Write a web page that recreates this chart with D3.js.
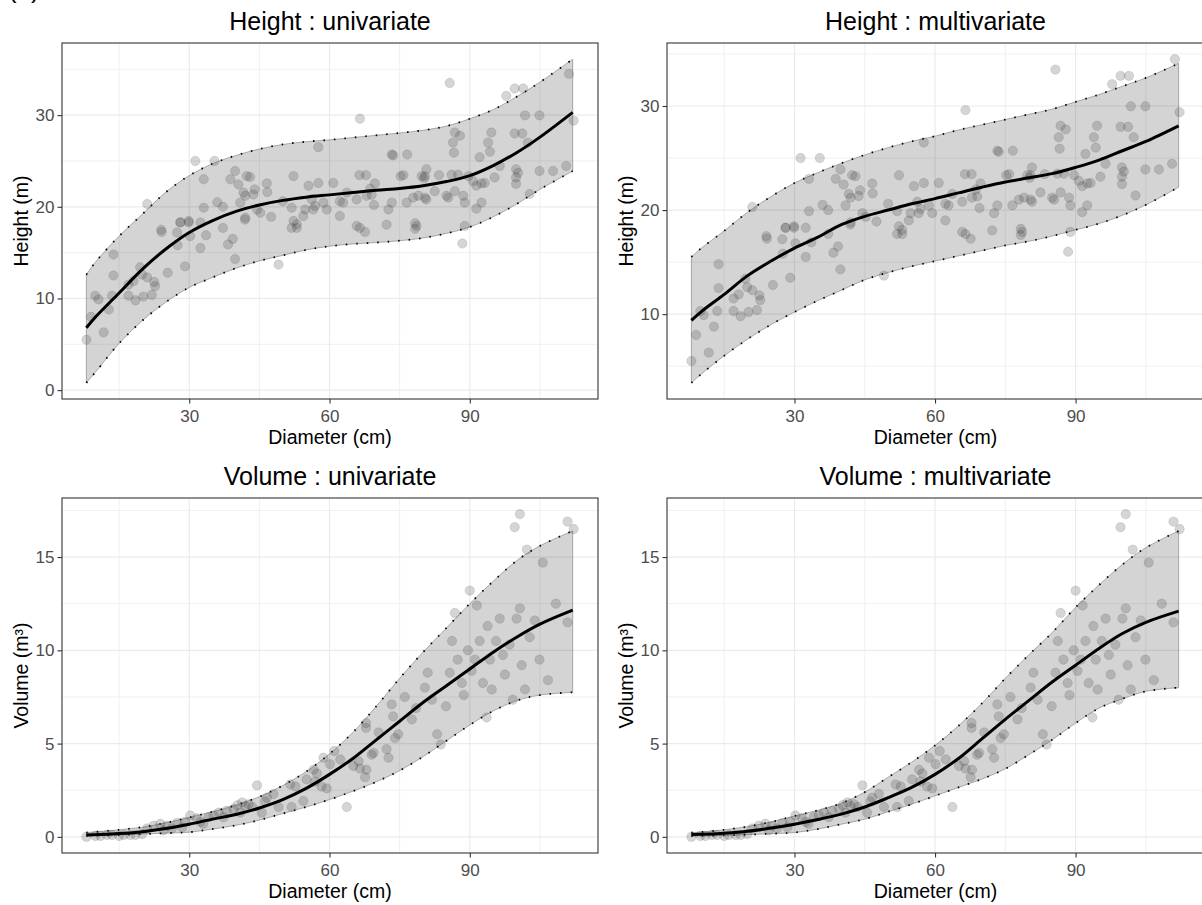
<!DOCTYPE html>
<html>
<head>
<meta charset="utf-8">
<script src="https://cdn.jsdelivr.net/npm/d3@7"></script>
<style>
  html, body { margin: 0; padding: 0; background: #ffffff; }
  svg { display: block; font-family: "Liberation Sans", Arial, "DejaVu Sans", sans-serif; }
</style>
</head>
<body>
<svg id="chart" width="1202" height="905"></svg>
<script>
// ---- Fitted curves: diameter grid (cm) and predictions ----
const diameterGrid = [8, 10, 15, 20, 25, 30, 35, 40, 45, 50, 55, 60, 65, 70, 75, 80, 85, 90, 95, 100, 105, 112];

// Height (m), univariate model
const heightUniFit   = [6.8, 8.0, 10.6, 13.2, 15.4, 17.2, 18.5, 19.5, 20.2, 20.7, 21.05, 21.3, 21.55, 21.8, 22.0, 22.3, 22.75, 23.4, 24.5, 25.9, 27.6, 30.3];
const heightUniLower = [0.8, 2.0, 5.1, 7.6, 9.6, 11.2, 12.3, 13.3, 14.1, 14.7, 15.3, 15.7, 15.95, 16.1, 16.3, 16.6, 17.1, 17.8, 18.9, 20.3, 21.9, 23.9];
const heightUniUpper = [12.6, 14.0, 16.8, 19.2, 21.6, 23.4, 24.7, 25.6, 26.3, 26.8, 27.1, 27.3, 27.55, 27.8, 28.05, 28.35, 28.8, 29.6, 30.6, 32.0, 33.6, 36.1];

// Height (m), multivariate model
const heightMultiFit   = [9.4, 10.2, 11.9, 13.7, 15.1, 16.35, 17.4, 18.6, 19.4, 20.0, 20.6, 21.1, 21.65, 22.2, 22.7, 23.1, 23.5, 24.1, 24.8, 25.7, 26.6, 28.1];
const heightMultiLower = [3.4, 4.2, 6.0, 7.6, 9.0, 10.2, 11.3, 12.3, 13.3, 14.0, 14.6, 15.1, 15.6, 16.1, 16.6, 17.0, 17.5, 18.1, 18.7, 19.5, 20.5, 22.2];
const heightMultiUpper = [15.5, 16.3, 18.0, 19.8, 21.3, 22.6, 23.6, 24.5, 25.3, 26.0, 26.6, 27.1, 27.7, 28.2, 28.7, 29.2, 29.7, 30.4, 31.1, 31.9, 32.7, 34.1];

// Volume (m3), univariate model
const volumeUniFit   = [0.1, 0.12, 0.18, 0.28, 0.45, 0.68, 0.95, 1.2, 1.55, 2.0, 2.6, 3.35, 4.2, 5.2, 6.2, 7.2, 8.1, 9.0, 9.9, 10.7, 11.4, 12.15];
const volumeUniLower = [0.05, 0.06, 0.1, 0.15, 0.2, 0.25, 0.42, 0.62, 0.9, 1.25, 1.6, 2.0, 2.45, 2.95, 3.55, 4.3, 5.15, 6.0, 6.75, 7.3, 7.6, 7.75];
const volumeUniUpper = [0.23, 0.27, 0.38, 0.52, 0.75, 1.04, 1.35, 1.7, 2.15, 2.75, 3.5, 4.45, 5.6, 7.0, 8.5, 9.9, 11.2, 12.5, 13.7, 14.8, 15.6, 16.4];

// Volume (m3), multivariate model
const volumeMultiFit   = [0.13, 0.14, 0.2, 0.3, 0.47, 0.68, 0.93, 1.22, 1.6, 2.1, 2.65, 3.35, 4.2, 5.25, 6.3, 7.3, 8.3, 9.2, 10.1, 10.9, 11.5, 12.1];
const volumeMultiLower = [0.04, 0.05, 0.08, 0.12, 0.17, 0.23, 0.42, 0.68, 0.95, 1.35, 1.75, 2.2, 2.65, 3.1, 3.65, 4.4, 5.2, 6.1, 6.9, 7.4, 7.8, 8.0];
const volumeMultiUpper = [0.23, 0.26, 0.38, 0.55, 0.8, 1.12, 1.42, 1.8, 2.4, 3.2, 4.0, 4.9, 5.95, 7.15, 8.5, 9.75, 10.95, 12.3, 13.5, 14.6, 15.5, 16.4];

// ---- Observed trees: diameter (cm) and height (m) ----
const obsHeightDiameter = [
  8.0, 9.0, 9.9, 10.6, 11.7, 12.8, 13.5, 13.8, 13.8, 17.0, 17.0, 18.5, 18.1, 19.5, 19.9, 20.2, 21.0, 22.0, 22.5, 22.7,
  24.1, 25.4, 27.4, 27.5, 28.1, 29.1, 29.9, 30.2, 32.4, 33.6, 37.2, 38.3, 39.3, 39.8, 41.9, 49.1, 51.9, 53.0, 21.0, 31.3,
  35.4, 33.1, 39.8, 38.8, 40.5, 42.3, 43.0, 41.6, 42.0, 43.7, 46.6, 46.7, 52.3, 33.1, 37.2, 28.1, 29.9, 32.4, 42.0, 44.5,
  45.2, 51.9, 52.3, 53.0, 24.0, 40.9, 57.6, 66.5, 73.3, 73.6, 76.6, 85.7, 86.8, 87.9, 86.4, 86.6, 94.6, 93.9, 94.3, 92.1,
  97.8, 99.6, 101.4, 101.8, 104.9, 99.6, 101.2, 102.4, 111.2, 112.2, 104.9, 107.8, 110.6, 99.9, 100.3, 99.9, 99.9, 102.8, 96.4, 95.3,
  93.2, 90.7, 91.4, 92.5, 89.7, 87.5, 86.1, 85.0, 86.8, 88.6, 88.9, 91.4, 92.5, 82.5, 83.4, 80.7, 80.4, 79.7, 80.2, 80.7,
  80.4, 79.0, 77.9, 75.8, 75.2, 66.4, 67.8, 69.7, 68.7, 69.0, 63.7, 62.2, 60.8, 57.6, 55.5, 56.2, 56.9, 58.7, 59.4, 62.9,
  65.8, 67.9, 69.5, 72.6, 73.3, 76.5, 85.4, 54.8, 54.4, 56.5, 62.2, 65.8, 66.5, 72.2, 78.3, 78.6, 88.9, 67.6, 78.3, 88.4,
  47.5, 50.0, 44.0, 36.0
];
const obsHeight = [
  5.5, 8.0, 10.3, 9.9, 6.3, 8.8, 10.3, 12.5, 14.8, 10.3, 11.5, 9.8, 11.9, 13.4, 12.6, 10.2, 12.3, 10.4, 11.8, 11.35,
  17.25, 12.8, 17.2, 15.8, 18.3, 13.5, 18.3, 16.8, 15.5, 16.9, 17.7, 15.9, 16.5, 14.3, 18.6, 13.7, 17.7, 17.7, 20.3, 25.0,
  25.0, 23.0, 23.9, 23.0, 22.45, 23.35, 23.25, 21.55, 21.2, 21.35, 22.55, 21.6, 23.35, 19.9, 20.0, 18.3, 18.45, 18.3, 18.8, 19.7,
  19.35, 19.9, 18.45, 18.1, 17.5, 20.45, 26.5, 29.6, 25.7, 25.6, 25.7, 33.5, 28.1, 27.75, 27.0, 25.9, 28.1, 27.0, 26.0, 25.4,
  32.1, 32.9, 32.9, 29.97, 29.97, 28.0, 28.0, 27.0, 34.5, 29.4, 23.9, 23.9, 24.45, 24.1, 23.7, 23.2, 22.5, 21.4, 24.45, 23.2,
  22.6, 22.8, 22.3, 22.55, 23.35, 23.5, 23.5, 21.2, 21.7, 21.2, 20.45, 19.8, 20.45, 21.7, 23.45, 24.1, 23.35, 23.35, 23.1, 20.8,
  21.0, 21.2, 21.0, 23.45, 23.35, 23.45, 23.45, 22.55, 21.97, 21.3, 21.55, 20.6, 22.6, 22.6, 22.3, 20.8, 20.1, 20.45, 19.7, 20.45,
  20.8, 21.2, 20.2, 19.7, 20.45, 20.45, 21.0, 19.7, 19.0, 19.7, 19.0, 17.9, 17.7, 18.05, 18.2, 17.9, 17.9, 17.25, 17.6, 16.0,
  18.9, 20.6, 21.9, 20.5
];

// ---- Observed trees: diameter (cm) and volume (m3) ----
const obsVolumeDiameter = [
  8.0, 9.9, 11.0, 12.4, 13.5, 17.4, 18.5, 19.9, 21.0, 22.4, 23.8, 25.2, 26.3, 27.4, 29.1, 30.2, 31.6, 32.4, 34.1, 35.2,
  36.3, 37.3, 38.0, 39.5, 40.3, 41.3, 42.0, 42.7, 40.9, 44.5, 45.5, 46.6, 46.2, 49.1, 51.9, 51.6, 52.7, 54.4, 55.1, 56.6,
  57.3, 56.9, 58.3, 59.4, 58.7, 60.1, 62.3, 63.7, 65.1, 66.2, 66.5, 67.6, 67.8, 67.8, 67.9, 69.0, 69.4, 72.6, 72.2, 73.3,
  73.6, 74.0, 74.7, 76.1, 77.6, 80.4, 81.0, 81.9, 83.0, 83.8, 84.9, 85.7, 86.2, 86.8, 87.4, 88.3, 88.7, 89.6, 90.0, 90.4,
  91.1, 91.5, 92.1, 92.8, 93.6, 93.8, 94.3, 94.7, 95.6, 96.4, 97.1, 97.5, 98.5, 99.2, 99.6, 100.0, 100.7, 100.7, 101.1, 101.8,
  102.2, 102.8, 103.9, 104.9, 105.6, 106.7, 108.4, 110.9, 110.9, 112.2, 15.0, 16.0, 24.5, 28.5, 33.0, 43.5, 48.0, 61.0, 70.5, 78.5
];
const obsVolume = [
  0.0, 0.05, 0.05, 0.1, 0.1, 0.1, 0.1, 0.15, 0.45, 0.6, 0.7, 0.6, 0.45, 0.75, 0.8, 1.15, 1.0, 0.8, 1.05, 1.15,
  1.3, 1.05, 1.4, 1.5, 1.7, 1.85, 1.65, 1.75, 1.3, 2.76, 1.3, 2.1, 1.9, 1.6, 1.6, 2.81, 2.7, 1.92, 3.08, 3.6,
  3.4, 2.96, 2.7, 2.6, 4.24, 3.9, 4.15, 1.6, 3.8, 4.06, 3.66, 3.2, 5.84, 6.1, 3.6, 4.4, 4.5, 4.24, 4.7, 7.1,
  6.46, 5.3, 5.5, 7.5, 6.3, 8.0, 8.8, 7.35, 5.5, 4.95, 7.0, 8.8, 10.5, 12.0, 9.5, 8.25, 7.6, 10.0, 13.2, 8.9,
  9.5, 12.4, 10.5, 8.25, 6.4, 11.3, 9.5, 7.9, 10.5, 11.7, 9.75, 8.7, 10.3, 7.35, 16.6, 11.7, 12.25, 17.3, 9.2, 7.9,
  15.4, 10.7, 11.6, 9.5, 14.7, 8.4, 12.5, 16.9, 11.5, 16.5, 0.05, 0.1, 0.35, 0.5, 0.7, 1.6, 2.3, 4.6, 5.6, 6.9
];

// ---- Axis ticks ----
const diameterTicks = [30, 60, 90];
const diameterMinor = [15, 45, 75, 105];
const heightTicks = [0, 10, 20, 30];
const heightMinor = [5, 15, 25, 35];
const volumeTicks = [0, 5, 10, 15];
const volumeMinor = [2.5, 7.5, 12.5, 17.5];

// ---- Panel definitions ----
const panels = [
  { title: "Height : univariate", yTitle: "Height (m)", left: 62, right: 598, top: 43, bottom: 399,
    fit: heightUniFit, lower: heightUniLower, upper: heightUniUpper,
    px: obsHeightDiameter, py: obsHeight, yTicks: heightTicks, yMinor: heightMinor },
  { title: "Height : multivariate", yTitle: "Height (m)", left: 667, right: 1204, top: 43, bottom: 399,
    fit: heightMultiFit, lower: heightMultiLower, upper: heightMultiUpper,
    px: obsHeightDiameter, py: obsHeight, yTicks: heightTicks, yMinor: heightMinor },
  { title: "Volume : univariate", yTitle: "Volume (m³)", left: 62, right: 598, top: 498, bottom: 853,
    fit: volumeUniFit, lower: volumeUniLower, upper: volumeUniUpper,
    px: obsVolumeDiameter, py: obsVolume, yTicks: volumeTicks, yMinor: volumeMinor },
  { title: "Volume : multivariate", yTitle: "Volume (m³)", left: 667, right: 1204, top: 498, bottom: 853,
    fit: volumeMultiFit, lower: volumeMultiLower, upper: volumeMultiUpper,
    px: obsVolumeDiameter, py: obsVolume, yTicks: volumeTicks, yMinor: volumeMinor }
];

const svg = d3.select("#chart");
svg.append("rect").attr("width", 1202).attr("height", 905).attr("fill", "#ffffff");

// figure tag in the top-left corner (sits mostly above the page edge)
svg.append("text").attr("x", 8).attr("y", -2)
  .attr("font-size", 26).attr("fill", "#000").text("(a)");

// ggplot-style 5% expansion of a data range
function expand(ext) {
  const pad = (ext[1] - ext[0]) * 0.05;
  return [ext[0] - pad, ext[1] + pad];
}

const xDomain = expand(d3.extent(diameterGrid.concat(obsHeightDiameter, obsVolumeDiameter)));
const smooth = d3.curveCatmullRom.alpha(0.5);

panels.forEach((p, i) => {
  const yDomain = expand(d3.extent(p.lower.concat(p.upper, p.py)));
  const x = d3.scaleLinear().domain(xDomain).range([p.left, p.right]);
  const y = d3.scaleLinear().domain(yDomain).range([p.bottom, p.top]);

  const clipId = "clip" + i;
  svg.append("clipPath").attr("id", clipId).append("rect")
    .attr("x", p.left).attr("y", p.top)
    .attr("width", p.right - p.left).attr("height", p.bottom - p.top);

  const g = svg.append("g");
  const plot = g.append("g").attr("clip-path", `url(#${clipId})`);

  // grid lines
  plot.selectAll(".vminor").data(diameterMinor).join("line")
    .attr("x1", d => x(d)).attr("x2", d => x(d)).attr("y1", p.top).attr("y2", p.bottom)
    .attr("stroke", "#f0f0f0").attr("stroke-width", 1);
  plot.selectAll(".hminor").data(p.yMinor).join("line")
    .attr("y1", d => y(d)).attr("y2", d => y(d)).attr("x1", p.left).attr("x2", p.right)
    .attr("stroke", "#f0f0f0").attr("stroke-width", 1);
  plot.selectAll(".vmajor").data(diameterTicks).join("line")
    .attr("x1", d => x(d)).attr("x2", d => x(d)).attr("y1", p.top).attr("y2", p.bottom)
    .attr("stroke", "#ebebeb").attr("stroke-width", 1.2);
  plot.selectAll(".hmajor").data(p.yTicks).join("line")
    .attr("y1", d => y(d)).attr("y2", d => y(d)).attr("x1", p.left).attr("x2", p.right)
    .attr("stroke", "#ebebeb").attr("stroke-width", 1.2);

  const rows = diameterGrid.map((d, k) => ({ d, fit: p.fit[k], lo: p.lower[k], hi: p.upper[k] }));

  // prediction band
  const area = d3.area().x(r => x(r.d)).y0(r => y(r.lo)).y1(r => y(r.hi)).curve(smooth);
  plot.append("path").datum(rows).attr("d", area)
    .attr("fill", "#000").attr("fill-opacity", 0.17)
    .attr("stroke", "#7a7a7a").attr("stroke-width", 0.6);

  const edge = acc => d3.line().x(r => x(r.d)).y(r => y(acc(r))).curve(smooth);
  [r => r.lo, r => r.hi].forEach(acc => {
    plot.append("path").datum(rows).attr("d", edge(acc))
      .attr("fill", "none").attr("stroke", "#000").attr("stroke-width", 1.8)
      .attr("stroke-dasharray", "1.5,9").attr("stroke-linecap", "butt");
  });

  // observed trees
  const pts = d3.zip(p.px, p.py);
  plot.selectAll(".pt").data(pts).join("circle")
    .attr("cx", d => x(d[0])).attr("cy", d => y(d[1])).attr("r", 4.7)
    .attr("fill", "#3a3a3a").attr("fill-opacity", 0.21)
    .attr("stroke", "#3a3a3a").attr("stroke-opacity", 0.16).attr("stroke-width", 0.8);

  // fitted mean
  plot.append("path").datum(rows)
    .attr("d", d3.line().x(r => x(r.d)).y(r => y(r.fit)).curve(smooth))
    .attr("fill", "none").attr("stroke", "#000").attr("stroke-width", 3);

  // panel border
  g.append("rect").attr("x", p.left).attr("y", p.top)
    .attr("width", p.right - p.left).attr("height", p.bottom - p.top)
    .attr("fill", "none").attr("stroke", "#333333").attr("stroke-width", 1.1);

  // axes
  const xAxis = g.append("g").attr("transform", `translate(0,${p.bottom})`)
    .call(d3.axisBottom(x).tickValues(diameterTicks).tickSize(4.5).tickPadding(3).tickFormat(d3.format("d")));
  const yAxis = g.append("g").attr("transform", `translate(${p.left},0)`)
    .call(d3.axisLeft(y).tickValues(p.yTicks.filter(t => t >= yDomain[0] && t <= yDomain[1]))
      .tickSize(4.5).tickPadding(3).tickFormat(d3.format("d")));
  [xAxis, yAxis].forEach(a => {
    a.attr("font-size", 17).attr("font-family", "'Liberation Sans', Arial, sans-serif");
    a.select(".domain").remove();
    a.selectAll(".tick line").attr("stroke", "#333333").attr("stroke-width", 1.1);
    a.selectAll(".tick text").attr("fill", "#4d4d4d").attr("font-size", 17);
  });
  xAxis.selectAll(".tick text").attr("dy", null).attr("y", 22.5);

  const cx = (p.left + Math.min(p.right, 1204)) / 2;

  // titles
  g.append("text").attr("x", cx).attr("y", p.top - 13)
    .attr("text-anchor", "middle").attr("font-size", 25).attr("fill", "#000").text(p.title);
  g.append("text").attr("x", cx).attr("y", p.bottom + 45)
    .attr("text-anchor", "middle").attr("font-size", 19.5).attr("fill", "#000").text("Diameter (cm)");
  g.append("text")
    .attr("transform", `translate(${p.left - 34},${(p.top + p.bottom) / 2}) rotate(-90)`)
    .attr("text-anchor", "middle").attr("font-size", 19.5).attr("fill", "#000").text(p.yTitle);
});
</script>
</body>
</html>
